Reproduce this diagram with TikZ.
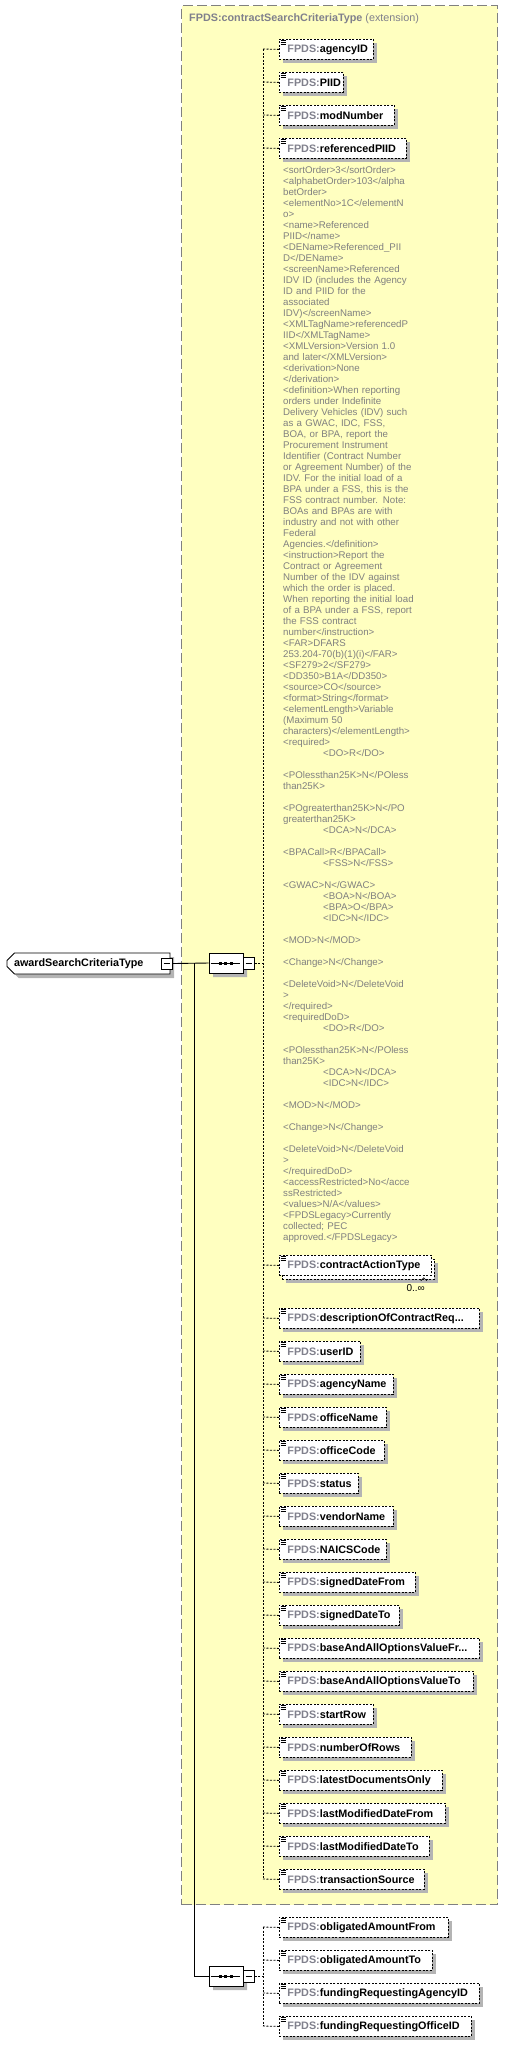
\documentclass[tikz,border=0pt]{standalone}
\usepackage{fontspec}
\setmainfont{Liberation Sans}
\usetikzlibrary{shapes.misc,shadows}
\definecolor{fpdsgray}{RGB}{128,128,140}
\definecolor{anngray}{RGB}{128,128,128}
\definecolor{ylw}{RGB}{255,255,192}
\definecolor{shd}{RGB}{180,180,180}
\definecolor{bordergray}{RGB}{128,128,128}
\tikzset{
  elembase/.style={draw=black, dash pattern=on 2pt off 1.5pt, line width=0.8pt, fill=white,
    rectangle, inner xsep=0pt, inner ysep=0pt, minimum height=20pt, anchor=north west,
    align=left, font=\fontsize{10.8}{12}\selectfont\bfseries},
  elembox/.style={elembase, drop shadow={shadow xshift=4pt, shadow yshift=-4pt, fill=shd, opacity=1}},
  conn/.style={draw=black, line width=0.8pt, dash pattern=on 2pt off 1.5pt},
  solidconn/.style={draw=black, line width=0.9pt},
  icon/.style={draw=black, line width=0.6pt},
  annot/.style={font=\fontsize{9.7}{11}\selectfont, text=anngray, align=left, inner sep=0pt, text width=140pt},
  compbox/.style={chamfered rectangle, chamfered rectangle xsep=5pt, draw=black, line width=0.8pt,
    fill=white, minimum width=34pt, minimum height=20pt, inner sep=0pt,
    drop shadow={shadow xshift=4pt, shadow yshift=-4pt, fill=shd, opacity=1}},
  minusbox/.style={rectangle, draw=black, line width=0.8pt, fill=white, minimum width=11pt,
    minimum height=11pt, inner sep=0pt}
}
\newcommand{\xelem}[5]{%
  \node[#5, text width=#3pt] (#1) at (279,#2) {\hspace*{8pt}\textcolor{fpdsgray}{FPDS:}#4};
  \draw[icon] (280.5,#2+1) -- (286,#2+1);
  \draw[icon] (280.5,#2+3) -- (286,#2+3);
  \draw[icon] (280.5,#2+5) -- (286,#2+5);
  \coordinate (#1j) at (263,#2+10);
  \draw[conn] (#1j) -- (#1.west);
}
\newcommand{\xcomp}[2]{%
  \node[compbox] (#1) at (226,#2) {};
  \draw[line width=0.9pt] ([xshift=2pt]#1.west) -- ([xshift=-3pt]#1.east);
  \fill (218.5,#2-1.5) rectangle ++(3,3);
  \fill (224,#2-1.5) rectangle ++(3,3);
  \fill (229.5,#2-1.5) rectangle ++(3,3);
  \node[minusbox, minimum height=12pt] (#1m) at (249,#2) {};
  \draw[line width=0.8pt] ([xshift=2.5pt]#1m.west) -- ([xshift=-2.5pt]#1m.east);
  \coordinate (#1j) at (263,#2);
  \draw[conn] (#1m.east) -- (#1j);
}
\begin{document}
\begin{tikzpicture}[x=1pt,y=-1pt]
\useasboundingbox (0,0) rectangle (508,2046);
% extension container
\node[draw=bordergray, fill=ylw, dash pattern=on 10pt off 4pt, line width=1.2pt, anchor=north west,
  minimum width=316pt, minimum height=1899pt, inner sep=0pt] (ext) at (181,5) {};
\node[anchor=west, inner sep=0pt, text=fpdsgray, font=\fontsize{10.8}{12}\selectfont] (title) at (189,19)
  {\bfseries FPDS:contractSearchCriteriaType \mdseries(extension)};

% root element
\node[chamfered rectangle, chamfered rectangle corners={north west,south west}, chamfered rectangle xsep=4pt,
  draw=black, line width=0.8pt, fill=white, minimum height=21pt, text width=155pt, inner xsep=0pt, inner ysep=0pt,
  align=left, font=\fontsize{10.8}{12}\selectfont\bfseries,
  drop shadow={shadow xshift=4pt, shadow yshift=-4pt, fill=shd, opacity=1}] (award) at (88.5,963.5)
  {\hspace*{3pt}awardSearchCriteriaType};
\node[minusbox] (awardm) at (167,963.5) {};
\draw[line width=0.8pt] ([xshift=2.5pt]awardm.west) -- ([xshift=-2.5pt]awardm.east);

% compositors
\xcomp{seqa}{963}
\xcomp{seqb}{1976}
\draw[solidconn] (awardm.east) -- (seqa.west);
\coordinate (branch) at (194,963);
\draw[solidconn] (branch) |- (seqb.west);

% upper elements
\xelem{agencyID}{39}{94}{agencyID}{elembox}
\xelem{PIID}{72}{64}{PIID}{elembox}
\xelem{modNumber}{105}{115}{modNumber}{elembox}
\xelem{referencedPIID}{138}{127}{referencedPIID}{elembox}

\node[annot, anchor=north west] (ann) at (283,166.3) {%
<sortOrder>3</sortOrder>\\
<alphabetOrder>103</alpha\\
betOrder>\\
<elementNo>1C</elementN\\
o>\\
<name>Referenced\\
PIID</name>\\
<DEName>Referenced\_PII\\
D</DEName>\\
<screenName>Referenced\\
IDV ID (includes the Agency\\
ID and PIID for the\\
associated\\
IDV)</screenName>\\
<XMLTagName>referencedP\\
IID</XMLTagName>\\
<XMLVersion>Version 1.0\\
and later</XMLVersion>\\
<derivation>None\\
</derivation>\\
<definition>When reporting\\
orders under Indefinite\\
Delivery Vehicles (IDV) such\\
as a GWAC, IDC, FSS,\\
BOA, or BPA, report the\\
Procurement Instrument\\
Identifier (Contract Number\\
or Agreement Number) of the\\
IDV. For the initial load of a\\
BPA under a FSS, this is the\\
FSS contract number. Note:\\
BOAs and BPAs are with\\
industry and not with other\\
Federal\\
Agencies.</definition>\\
<instruction>Report the\\
Contract or Agreement\\
Number of the IDV against\\
which the order is placed.\\
When reporting the initial load\\
of a BPA under a FSS, report\\
the FSS contract\\
number</instruction>\\
<FAR>DFARS\\
253.204-70(b)(1)(i)</FAR>\\
<SF279>2</SF279>\\
<DD350>B1A</DD350>\\
<source>CO</source>\\
<format>String</format>\\
<elementLength>Variable\\
(Maximum 50\\
characters)</elementLength>\\
<required>\\
\hspace*{40pt}<DO>R</DO>\\
\mbox{}\\
<POlessthan25K>N</POless\\
than25K>\\
\mbox{}\\
<POgreaterthan25K>N</PO\\
greaterthan25K>\\
\hspace*{40pt}<DCA>N</DCA>\\
\mbox{}\\
<BPACall>R</BPACall>\\
\hspace*{40pt}<FSS>N</FSS>\\
\mbox{}\\
<GWAC>N</GWAC>\\
\hspace*{40pt}<BOA>N</BOA>\\
\hspace*{40pt}<BPA>O</BPA>\\
\hspace*{40pt}<IDC>N</IDC>\\
\mbox{}\\
<MOD>N</MOD>\\
\mbox{}\\
<Change>N</Change>\\
\mbox{}\\
<DeleteVoid>N</DeleteVoid\\
>\\
</required>\\
<requiredDoD>\\
\hspace*{40pt}<DO>R</DO>\\
\mbox{}\\
<POlessthan25K>N</POless\\
than25K>\\
\hspace*{40pt}<DCA>N</DCA>\\
\hspace*{40pt}<IDC>N</IDC>\\
\mbox{}\\
<MOD>N</MOD>\\
\mbox{}\\
<Change>N</Change>\\
\mbox{}\\
<DeleteVoid>N</DeleteVoid\\
>\\
</requiredDoD>\\
<accessRestricted>No</acce\\
ssRestricted>\\
<values>N/A</values>\\
<FPDSLegacy>Currently\\
collected; PEC\\
approved.</FPDSLegacy>};

% multiple element
\node[elembox, text width=152pt] (catback) at (282,1259) {};
\draw[icon] ([xshift=-14pt,yshift=-1pt]catback.south east) -- ([xshift=-11pt,yshift=2pt]catback.south east)
  -- ([xshift=-8pt,yshift=-1pt]catback.south east);
\xelem{contractActionType}{1255}{152}{contractActionType}{elembase}
\node[anchor=base east, inner sep=0pt, font=\fontsize{10}{12}\selectfont] (occ) at (425,1291.5) {0..∞};

\xelem{descr}{1308}{200}{descriptionOfContractReq...}{elembox}
\xelem{userID}{1341}{81}{userID}{elembox}
\xelem{agencyName}{1374}{114}{agencyName}{elembox}
\xelem{officeName}{1407}{107}{officeName}{elembox}
\xelem{officeCode}{1440}{105}{officeCode}{elembox}
\xelem{status}{1473}{79}{status}{elembox}
\xelem{vendorName}{1506}{114}{vendorName}{elembox}
\xelem{NAICSCode}{1539}{107}{NAICSCode}{elembox}
\xelem{signedDateFrom}{1572}{136}{signedDateFrom}{elembox}
\xelem{signedDateTo}{1605}{120}{signedDateTo}{elembox}
\xelem{baseFr}{1638}{200}{baseAndAllOptionsValueFr...}{elembox}
\xelem{baseTo}{1671}{194}{baseAndAllOptionsValueTo}{elembox}
\xelem{startRow}{1704}{94}{startRow}{elembox}
\xelem{numberOfRows}{1737}{132}{numberOfRows}{elembox}
\xelem{latestDocumentsOnly}{1770}{163}{latestDocumentsOnly}{elembox}
\xelem{lastModFrom}{1803}{166}{lastModifiedDateFrom}{elembox}
\xelem{lastModTo}{1836}{150}{lastModifiedDateTo}{elembox}
\xelem{transactionSource}{1869}{145}{transactionSource}{elembox}
\draw[conn] (agencyIDj) -- (transactionSourcej);

% lower group
\xelem{oblFrom}{1917}{169}{obligatedAmountFrom}{elembox}
\xelem{oblTo}{1950}{153}{obligatedAmountTo}{elembox}
\xelem{fundAgency}{1983}{200}{fundingRequestingAgencyID}{elembox}
\xelem{fundOffice}{2016}{192}{fundingRequestingOfficeID}{elembox}
\draw[conn] (oblFromj) -- (fundOfficej);
\end{tikzpicture}
\end{document}
